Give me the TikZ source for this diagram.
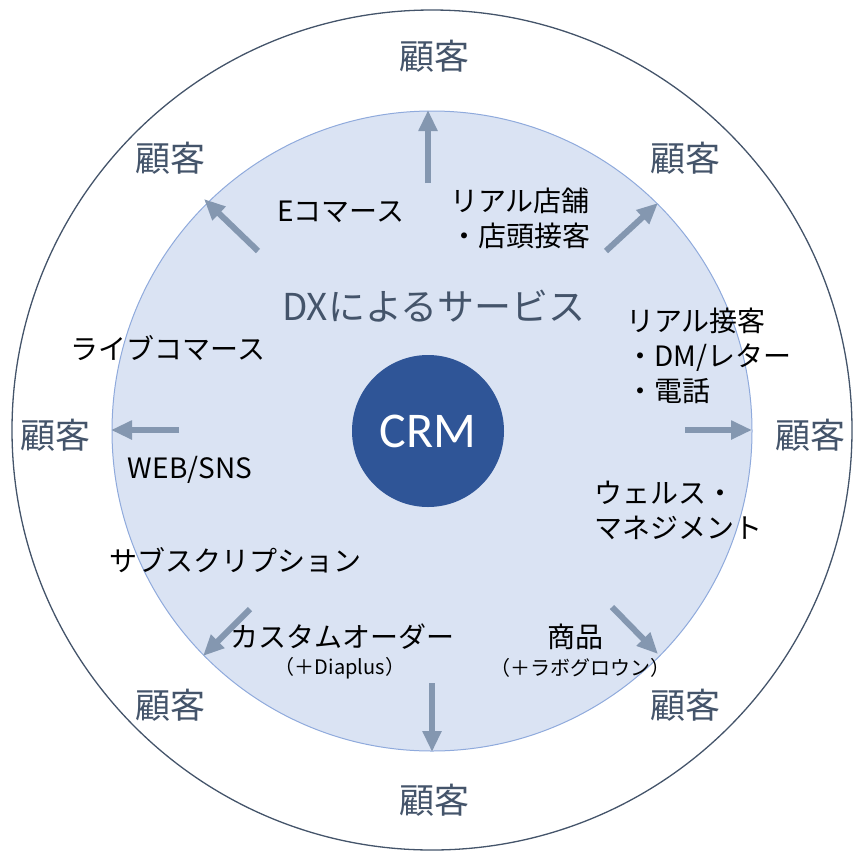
\documentclass[tikz,border=0pt]{standalone}
\usepackage{fontspec}
\setmainfont{Noto Sans CJK JP}
\newfontfamily\crmfont{Carlito}
\usetikzlibrary{arrows.meta}
\definecolor{ringline}{HTML}{44546A}
\definecolor{innerfill}{HTML}{DAE3F3}
\definecolor{innerline}{HTML}{8FAADC}
\definecolor{crmblue}{HTML}{2F5597}
\definecolor{arrowgray}{HTML}{8497B0}
\tikzset{
  flow/.style={draw=arrowgray, line width=6pt,
    -{Triangle[length=21pt,width=18pt]}},
  customer/.style={text=ringline, font=\fontsize{35}{38}\selectfont, inner sep=0pt},
  label/.style={text=black, font=\fontsize{28}{35}\selectfont, inner sep=0pt},
  lines/.style={label, align=left, anchor=west},
  small/.style={text=black, font=\fontsize{20}{24}\selectfont, inner sep=0pt},
}
\begin{document}
\begin{tikzpicture}[x=1pt, y=-1pt]
\useasboundingbox (0,0) rectangle (854,852);

% rings
\draw[ringline, line width=1.3pt] (432,430) circle [radius=420pt];
\draw[innerline, fill=innerfill, line width=1pt] (432,431) circle [radius=320pt];
\node[circle, fill=crmblue, minimum size=152pt, inner sep=0pt, text=white,
      font=\crmfont\fontsize{50}{52}\selectfont] (crm) at (428,431) {CRM};

\node[text=ringline, font=\fontsize{37}{40}\selectfont, inner sep=0pt] (dx) at (434,306) {DXによるサービス};

% customers around the ring
\node[customer] (cN)  at (434,56)  {顧客};
\node[customer] (cNW) at (170,158) {顧客};
\node[customer] (cNE) at (685,158) {顧客};
\node[customer] (cW)  at (55,435)  {顧客};
\node[customer] (cE)  at (810,435) {顧客};
\node[customer] (cSW) at (170,705) {顧客};
\node[customer] (cSE) at (685,705) {顧客};
\node[customer] (cS)  at (434,800) {顧客};

% arrow ends on the inner ring
\coordinate (aN0)  at (428,183); \coordinate (aN1)  at (428,110);
\coordinate (aNW0) at (258,251); \coordinate (aNW1) at (204,199);
\coordinate (aNE0) at (606,251); \coordinate (aNE1) at (658,203);
\coordinate (aW0)  at (179,430); \coordinate (aW1)  at (111,430);
\coordinate (aE0)  at (685,430); \coordinate (aE1)  at (752,430);
\coordinate (aSW0) at (250,609); \coordinate (aSW1) at (203,656);
\coordinate (aSE0) at (612,607); \coordinate (aSE1) at (658,654);
\coordinate (aS0)  at (432,683); \coordinate (aS1)  at (432,752);

\draw[flow] (aN0) -- (aN1);
\draw[flow] (aNW0) -- (aNW1);
\draw[flow] (aNE0) -- (aNE1);
\draw[flow] (aW0) -- (aW1);
\draw[flow] (aE0) -- (aE1);
\draw[flow] (aSW0) -- (aSW1);
\draw[flow] (aSE0) -- (aSE1);
\draw[flow] (aS0) -- (aS1);

% service channels
\node[label] (ec) at (341,212) {Eコマース};
\node[lines] (store) at (450,218) {リアル店舗\\・店頭接客};
\node[label] (live) at (168,348) {ライブコマース};
\node[lines] (face) at (626,356) {リアル接客\\・DM/レター\\・電話};
\node[label] (web) at (190,470) {WEB/SNS};
\node[lines] (wealth) at (594,510) {ウェルス・\\マネジメント};
\node[label] (sub) at (235,560) {サブスクリプション};
\node[label] (order) at (342,637) {カスタムオーダー};
\node[small] (dia) at (340,668) {（＋Diaplus）};
\node[label] (goods) at (575,637) {商品};
\node[small] (lab) at (580,668) {（＋ラボグロウン）};
\end{tikzpicture}
\end{document}
